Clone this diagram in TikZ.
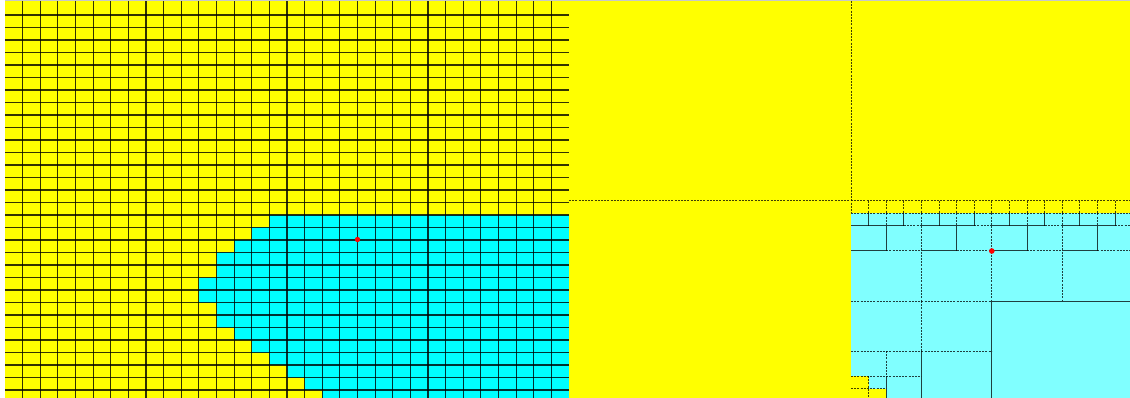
\documentclass[tikz,border=0pt]{standalone}
\definecolor{ylw}{RGB}{255,255,0}
\definecolor{cyn}{RGB}{0,255,255}
\definecolor{lcyn}{RGB}{128,255,255}
\definecolor{topgray}{RGB}{200,200,200}
\begin{document}
\begin{tikzpicture}[x=1pt,y=-1pt,
  gridline/.style={black, line width=1.1pt, opacity=0.8},
  qsolid/.style={black, line width=1pt, opacity=0.75},
  qdash/.style={black, line width=1pt, opacity=0.75, dash pattern=on 2pt off 1.2pt},
  reddot/.style={fill=red, draw=none}]
\useasboundingbox (0,0) rectangle (1130,398);
\clip (0,0) rectangle (1130,398);
\fill[white] (0,0) rectangle (1130,398);
% ---------------- left uniform grid ----------------
\fill[ylw] (5,1) rectangle (569,398);
\foreach \j/\c in {17/15,18/14,19/13,20/12,21/12,22/11,23/11,24/12,25/12,26/13,27/14,28/15,29/16,30/17,31/18}{
  \fill[cyn] ({5+17.625*\c},{2.5+12.5*\j}) rectangle (569,{2.5+12.5*(\j+1)});
}
\foreach \i in {1,...,31}{
  \draw[gridline] ({5+17.625*\i},1) -- ({5+17.625*\i},398);
}
\foreach \j in {1,...,31}{
  \draw[gridline] (5,{2.5+12.5*\j}) -- (569,{2.5+12.5*\j});
}
\fill[reddot] (357.5,239.5) circle (2.7);
% ---------------- right quadtree ----------------
\fill[ylw] (569,1) rectangle (1130,398);
\draw[qdash] (851,1) -- (851,398);
\draw[qdash] (569,201) -- (1130,201);
\begin{scope}[shift={(851,201)}, x=17.6pt, y=-12.5pt]
  \fill[lcyn] (0,1) rectangle (16,16);
  \fill[ylw] (0,14) rectangle (1,16);
  \fill[ylw] (1,15) rectangle (2,16);
  % dashed edges
  \draw[qdash] (0,1) -- (16,1);
  \foreach \i in {1,...,15}{ \draw[qdash] (\i,0) -- (\i,1); }
  \foreach \i in {2,4,...,14}{ \draw[qdash] (\i,1) -- (\i,2); }
  \foreach \a in {3,7,11,15}{ \draw[qdash] (\a,2) -- (\a+1,2); }
  \foreach \i in {4,8,12}{ \draw[qdash] (\i,2) -- (\i,8); }
  \foreach \a in {2,6,10,14}{ \draw[qdash] (\a,4) -- (\a+2,4); }
  \draw[qdash] (0,8) -- (8,8);
  \draw[qdash] (4,8) -- (4,12);
  \draw[qdash] (0,12) -- (8,12);
  \draw[qdash] (2,12) -- (2,14);
  \draw[qdash] (0,14) -- (4,14);
  \draw[qdash] (1,14) -- (1,16);
  \draw[qdash] (0,15) -- (2,15);
  % solid edges
  \foreach \i in {1,3,...,15}{ \draw[qsolid] (\i,1) -- (\i,2); }
  \foreach \a in {0,4,8,12}{ \draw[qsolid] (\a,2) -- (\a+3,2); }
  \foreach \i in {2,6,10,14}{ \draw[qsolid] (\i,2) -- (\i,4); }
  \foreach \a in {0,4,8,12}{ \draw[qsolid] (\a,4) -- (\a+2,4); }
  \draw[qsolid] (8,8) -- (16,8);
  \draw[qsolid] (8,8) -- (8,16);
  \draw[qsolid] (4,12) -- (4,16);
  \draw[qsolid] (2,14) -- (2,16);
  \fill[reddot] (8,4) circle[radius=2.8pt];
\end{scope}
% top border
\fill[topgray] (5,0) rectangle (1130,1);
\end{tikzpicture}
\end{document}
